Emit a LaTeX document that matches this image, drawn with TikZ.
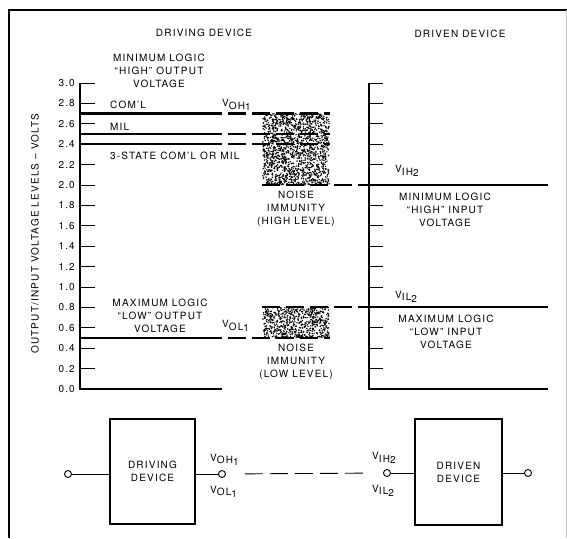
\documentclass[tikz,border=0pt]{standalone}
\usepackage{fontspec}
\setmainfont{TeX Gyre Heros}[LetterSpace=12]
\usetikzlibrary{positioning}

% V with lowered subscript and index
\newcommand{\Vsub}[2]{V\raisebox{-2.5pt}{#1\raisebox{-1.5pt}{#2}}}

\begin{document}
\begin{tikzpicture}[x=1pt,y=1pt,
  every node/.style={font=\fontsize{10}{13}\selectfont, inner sep=0pt},
  txt/.style={align=center},
  axisline/.style={line width=1.6pt},
  scaletick/.style={line width=0.9pt},
  solidlevel/.style={line width=2.6pt},
  dashlevel/.style={line width=2.6pt, dash pattern=on 18pt off 6pt},
  devbox/.style={draw, line width=2pt, minimum width=85pt, minimum height=105pt, align=center},
  term/.style={draw, circle, line width=0.9pt, minimum size=7pt, fill=white},
  wire/.style={line width=0.9pt}]

  \useasboundingbox (0,0) rectangle (567,538);

  % Frame
  \draw[line width=2.2pt] (9,0) -- (9,528) -- (567,528);
  \draw[black!25, line width=0.5pt] (566,0) -- (566,528);

  % Column titles
  \node (drvtitle) at (204,505) {DRIVING DEVICE};
  \node (dvntitle) at (460,504) {DRIVEN DEVICE};

  \begin{scope}[yshift=149pt, y=102pt]

    % Noise immunity areas (random stipple)
    \pgfmathsetseed{7}
    \foreach \i in {1,...,1550}
      \fill ({262.8+66.4*rnd},{2.0+0.7*rnd}) circle (0.8pt);
    \foreach \i in {1,...,660}
      \fill ({262.8+66.4*rnd},{0.5+0.3*rnd}) circle (0.8pt);

    % Driving device scale
    \draw[axisline] (222,0) -- (80,0) -- (80,3);
    \foreach \t [count=\k] in {0.0,0.2,0.4,0.6,0.8,1.0,1.2,1.4,1.6,1.8,2.0,2.2,2.4,2.6,2.8,3.0} {
      \draw[scaletick] (80,\t) -- (95,\t);
      \node[anchor=east] (lbl\k) at (75,\t) {\t};
    }

    % Driven device scale
    \draw[axisline] (548,0) -- (369,0) -- (369,3);
    \foreach \t in {0.2,0.4,0.6,1.0,1.2,1.4,1.6,1.8,2.2,2.4,2.6,2.8,3.0}
      \draw[scaletick] (369,\t) -- (383,\t);

    % Output levels
    \foreach \v/\w in {2.7/2.2pt, 2.5/2.6pt, 2.4/2.6pt, 0.5/2.6pt} {
      \draw[solidlevel, line width=\w] (80,\v) -- (222,\v);
      \draw[dashlevel, line width=\w] (228,\v) -- (330,\v);
    }

    % Input levels
    \draw[dashlevel, line width=2.2pt] (262,2.0) -- (369,2.0);
    \draw[solidlevel, line width=2.2pt] (369,2.0) -- (548,2.0);
    \draw[dashlevel, line width=2.2pt] (262,0.8) -- (369,0.8);
    \draw[solidlevel, line width=2.2pt] (369,0.8) -- (548,0.8);

    % Labels
    \node[txt] (minhout) at (159,3.118) {MINIMUM LOGIC\\“HIGH” OUTPUT\\VOLTAGE};
    \node[anchor=west] (coml) at (110,2.79) {COM’L};
    \node[anchor=west] (mil) at (110,2.57) {MIL};
    \node[anchor=west] (tristate) at (110,2.29) {3-STATE COM’L OR MIL};
    \node[anchor=base west] (voh) at (222,2.765) {\Vsub{OH}{1}};
    \node[txt] (maxlout) at (160,0.716) {MAXIMUM LOGIC\\“LOW” OUTPUT\\VOLTAGE};
    \node[anchor=base west] (vol) at (222,0.60) {\Vsub{OL}{1}};
    \node[txt] (nihigh) at (296,1.765) {NOISE\\IMMUNITY\\(HIGH LEVEL)};
    \node[txt] (nilow) at (296,0.265) {NOISE\\IMMUNITY\\(LOW LEVEL)};
    \node[anchor=base west] (vih) at (395,2.12) {\Vsub{IH}{2}};
    \node[txt] (minhin) at (445,1.755) {MINIMUM LOGIC\\“HIGH” INPUT\\VOLTAGE};
    \node[anchor=base west] (vil) at (395,0.89) {\Vsub{IL}{2}};
    \node[txt] (maxlin) at (446,0.56) {MAXIMUM LOGIC\\“LOW” INPUT\\VOLTAGE};
    \node[rotate=90] (yaxis) at (35,1.52) {OUTPUT/INPUT VOLTAGE LEVELS – VOLTS};
  \end{scope}

  % Driving and driven device
  \node[devbox] (drvg) at (152.5,66.5) {DRIVING\\DEVICE};
  \node[devbox, minimum width=87pt] (drvn) at (458.5,66) {DRIVEN\\DEVICE};
  \node[term] (inA) at (68,64) {};
  \node[term] (outA) at (222,64) {};
  \node[term] (inB) at (387,65) {};
  \node[term] (outB) at (528,65) {};
  \draw[wire] (inA) -- (inA -| drvg.west);
  \draw[wire] (drvg.east |- outA) -- (outA);
  \draw[wire] (inB) -- (inB -| drvn.west);
  \draw[wire] (drvn.east |- outB) -- (outB);
  \draw[wire, dash pattern=on 18pt off 7pt, shorten <=19pt, shorten >=20pt] (outA) -- (inB);

  \node[anchor=base west] (vohB) at (210,77) {\Vsub{OH}{1}};
  \node[anchor=base west] (volB) at (210,45) {\Vsub{OL}{1}};
  \node[anchor=base west] (vihB) at (372,78) {\Vsub{IH}{2}};
  \node[anchor=base west] (vilB) at (372,46) {\Vsub{IL}{2}};

\end{tikzpicture}
\end{document}
